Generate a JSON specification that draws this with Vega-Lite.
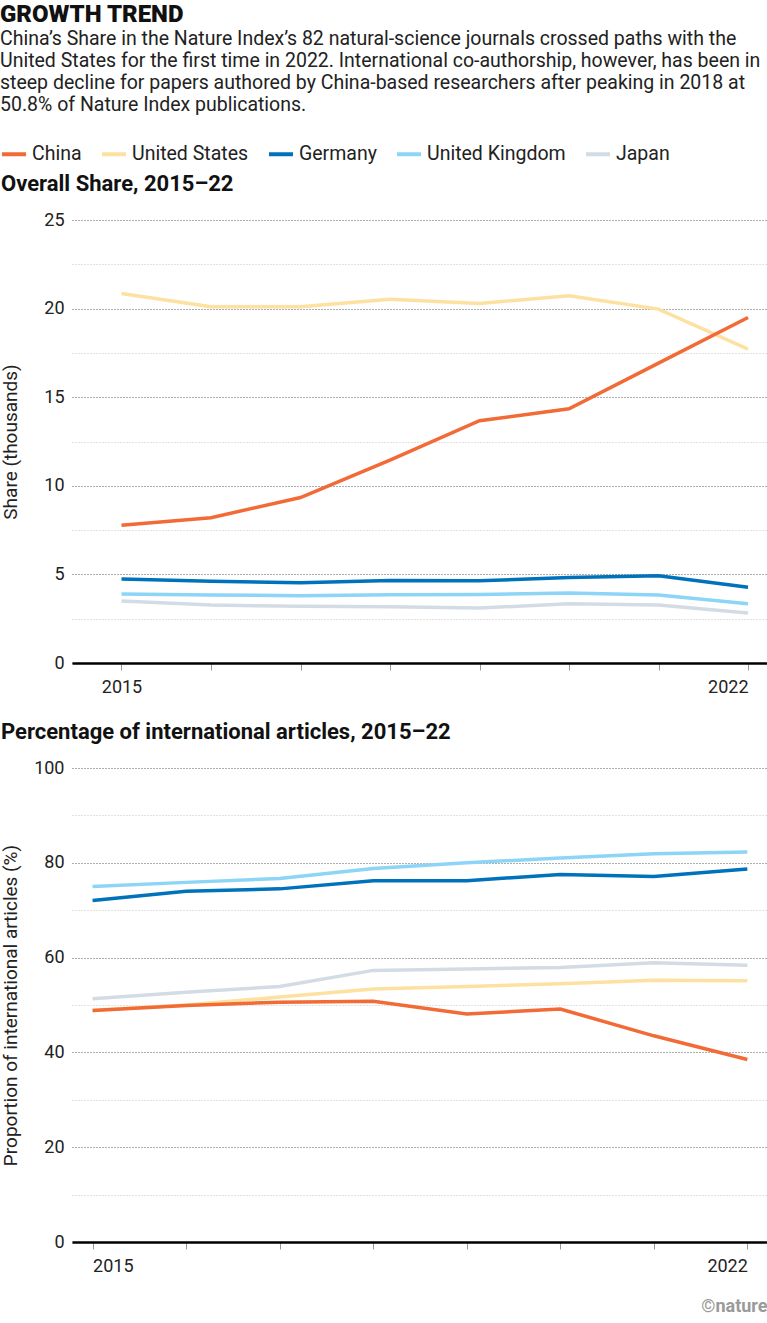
{
  "$schema": "https://vega.github.io/schema/vega-lite/v6.json",
  "padding": {"top": 2, "left": 0, "right": 0, "bottom": 0},
  "background": "white",
  "title": {
    "text": "GROWTH TREND",
    "subtitle": [
      "China’s Share in the Nature Index’s 82 natural-science journals crossed paths with the",
      "United States for the first time in 2022. International co-authorship, however, has been in",
      "steep decline for papers authored by China-based researchers after peaking in 2018 at",
      "50.8% of Nature Index publications."
    ],
    "anchor": "start",
    "font": "Roboto",
    "fontSize": 24,
    "fontWeight": 900,
    "color": "#111111",
    "subtitleFont": "Roboto",
    "subtitleFontSize": 19.5,
    "subtitleLineHeight": 22,
    "subtitleColor": "#222222",
    "subtitlePadding": 3,
    "offset": 26
  },
  "datasets": {
    "share": [
      {"year": 2015, "country": "United States", "value": 20.85},
      {"year": 2016, "country": "United States", "value": 20.1},
      {"year": 2017, "country": "United States", "value": 20.1},
      {"year": 2018, "country": "United States", "value": 20.53},
      {"year": 2019, "country": "United States", "value": 20.29},
      {"year": 2020, "country": "United States", "value": 20.72},
      {"year": 2021, "country": "United States", "value": 19.97},
      {"year": 2022, "country": "United States", "value": 17.71},
      {"year": 2015, "country": "Japan", "value": 3.5},
      {"year": 2016, "country": "Japan", "value": 3.27},
      {"year": 2017, "country": "Japan", "value": 3.2},
      {"year": 2018, "country": "Japan", "value": 3.18},
      {"year": 2019, "country": "Japan", "value": 3.1},
      {"year": 2020, "country": "Japan", "value": 3.34},
      {"year": 2021, "country": "Japan", "value": 3.27},
      {"year": 2022, "country": "Japan", "value": 2.82},
      {"year": 2015, "country": "United Kingdom", "value": 3.89},
      {"year": 2016, "country": "United Kingdom", "value": 3.84},
      {"year": 2017, "country": "United Kingdom", "value": 3.8},
      {"year": 2018, "country": "United Kingdom", "value": 3.85},
      {"year": 2019, "country": "United Kingdom", "value": 3.87},
      {"year": 2020, "country": "United Kingdom", "value": 3.95},
      {"year": 2021, "country": "United Kingdom", "value": 3.84},
      {"year": 2022, "country": "United Kingdom", "value": 3.34},
      {"year": 2015, "country": "Germany", "value": 4.74},
      {"year": 2016, "country": "Germany", "value": 4.61},
      {"year": 2017, "country": "Germany", "value": 4.53},
      {"year": 2018, "country": "Germany", "value": 4.66},
      {"year": 2019, "country": "Germany", "value": 4.64},
      {"year": 2020, "country": "Germany", "value": 4.83},
      {"year": 2021, "country": "Germany", "value": 4.92},
      {"year": 2022, "country": "Germany", "value": 4.27},
      {"year": 2015, "country": "China", "value": 7.77},
      {"year": 2016, "country": "China", "value": 8.2},
      {"year": 2017, "country": "China", "value": 9.34},
      {"year": 2018, "country": "China", "value": 11.45},
      {"year": 2019, "country": "China", "value": 13.67},
      {"year": 2020, "country": "China", "value": 14.35},
      {"year": 2021, "country": "China", "value": 16.92},
      {"year": 2022, "country": "China", "value": 19.5}
    ],
    "intl": [
      {"year": 2015, "country": "United States", "value": 48.9},
      {"year": 2016, "country": "United States", "value": 50.0},
      {"year": 2017, "country": "United States", "value": 51.7},
      {"year": 2018, "country": "United States", "value": 53.4},
      {"year": 2019, "country": "United States", "value": 53.9},
      {"year": 2020, "country": "United States", "value": 54.5},
      {"year": 2021, "country": "United States", "value": 55.2},
      {"year": 2022, "country": "United States", "value": 55.1},
      {"year": 2015, "country": "Japan", "value": 51.3},
      {"year": 2016, "country": "Japan", "value": 52.7},
      {"year": 2017, "country": "Japan", "value": 53.9},
      {"year": 2018, "country": "Japan", "value": 57.3},
      {"year": 2019, "country": "Japan", "value": 57.6},
      {"year": 2020, "country": "Japan", "value": 57.9},
      {"year": 2021, "country": "Japan", "value": 58.9},
      {"year": 2022, "country": "Japan", "value": 58.4},
      {"year": 2015, "country": "United Kingdom", "value": 75.0},
      {"year": 2016, "country": "United Kingdom", "value": 75.87},
      {"year": 2017, "country": "United Kingdom", "value": 76.7},
      {"year": 2018, "country": "United Kingdom", "value": 78.8},
      {"year": 2019, "country": "United Kingdom", "value": 80.0},
      {"year": 2020, "country": "United Kingdom", "value": 81.0},
      {"year": 2021, "country": "United Kingdom", "value": 81.9},
      {"year": 2022, "country": "United Kingdom", "value": 82.3},
      {"year": 2015, "country": "Germany", "value": 72.07},
      {"year": 2016, "country": "Germany", "value": 74.0},
      {"year": 2017, "country": "Germany", "value": 74.5},
      {"year": 2018, "country": "Germany", "value": 76.2},
      {"year": 2019, "country": "Germany", "value": 76.2},
      {"year": 2020, "country": "Germany", "value": 77.55},
      {"year": 2021, "country": "Germany", "value": 77.1},
      {"year": 2022, "country": "Germany", "value": 78.7},
      {"year": 2015, "country": "China", "value": 48.86},
      {"year": 2016, "country": "China", "value": 49.9},
      {"year": 2017, "country": "China", "value": 50.6},
      {"year": 2018, "country": "China", "value": 50.8},
      {"year": 2019, "country": "China", "value": 48.1},
      {"year": 2020, "country": "China", "value": 49.15},
      {"year": 2021, "country": "China", "value": 43.5},
      {"year": 2022, "country": "China", "value": 38.5}
    ]
  },
  "spacing": 25,
  "vconcat": [
    {
      "width": 695,
      "height": 443,
      "title": {"text": "Overall Share, 2015–22"},
      "data": {"name": "share"},
      "mark": {"type": "line", "strokeWidth": 3.5},
      "encoding": {
        "x": {
          "field": "year",
          "type": "quantitative",
          "scale": {"domain": [2014.447, 2022.212], "nice": false, "zero": false},
          "axis": {
            "values": [2015, 2016, 2017, 2018, 2019, 2020, 2021, 2022],
            "labelExpr": "datum.value == 2015 || datum.value == 2022 ? '' + datum.value : ''",
            "title": null
          }
        },
        "y": {
          "field": "value",
          "type": "quantitative",
          "scale": {"domain": [0, 25], "nice": false},
          "axis": {
            "values": [0, 2.5, 5, 7.5, 10, 12.5, 15, 17.5, 20, 22.5, 25],
            "labelExpr": "datum.value % 5 == 0 ? datum.label : ''",
            "gridColor": {"condition": {"test": "datum.value % 5 == 0", "value": "#5a5a5a"}, "value": "#c4c4c4"},
            "title": "Share (thousands)"
          }
        },
        "color": {
          "field": "country",
          "type": "nominal",
          "scale": {
            "domain": ["China", "United States", "Germany", "United Kingdom", "Japan"],
            "range": ["#F26A36", "#FDE1A0", "#0072BC", "#8DD5F6", "#D3DCE4"]
          },
          "legend": {
            "orient": "none",
            "legendX": -72,
            "legendY": -80,
            "direction": "horizontal",
            "title": null,
            "symbolType": "stroke",
            "symbolSize": 576,
            "symbolStrokeWidth": 4,
            "labelFont": "Roboto",
            "labelFontSize": 19.5,
            "labelColor": "#222222",
            "labelOffset": 4,
            "columnPadding": 12
          }
        }
      }
    },
    {
      "width": 695,
      "height": 474,
      "title": {"text": "Percentage of international articles, 2015–22"},
      "data": {"name": "intl"},
      "mark": {"type": "line", "strokeWidth": 3.5},
      "encoding": {
        "x": {
          "field": "year",
          "type": "quantitative",
          "scale": {"domain": [2014.78, 2022.21], "nice": false, "zero": false},
          "axis": {
            "values": [2015, 2016, 2017, 2018, 2019, 2020, 2021, 2022],
            "labelExpr": "datum.value == 2015 || datum.value == 2022 ? '' + datum.value : ''",
            "title": "©nature",
            "titleAnchor": "end",
            "titleFont": "Roboto",
            "titleFontWeight": "bold",
            "titleFontSize": 18,
            "titleColor": "#9a9a9a",
            "titlePadding": 22
          }
        },
        "y": {
          "field": "value",
          "type": "quantitative",
          "scale": {"domain": [0, 100], "nice": false},
          "axis": {
            "values": [0, 10, 20, 30, 40, 50, 60, 70, 80, 90, 100],
            "labelExpr": "datum.value % 20 == 0 ? datum.label : ''",
            "gridColor": {"condition": {"test": "datum.value % 20 == 0", "value": "#5a5a5a"}, "value": "#c4c4c4"},
            "title": "Proportion of international articles (%)"
          }
        },
        "color": {
          "field": "country",
          "type": "nominal"
        }
      }
    }
  ],
  "config": {
    "view": {"stroke": null},
    "font": "Roboto",
    "title": {
      "anchor": "start",
      "font": "Roboto",
      "fontSize": 22,
      "fontWeight": "bold",
      "color": "#111111",
      "offset": 15
    },
    "axisX": {
      "grid": false,
      "tickSize": 7,
      "tickColor": "#999999",
      "tickWidth": 1,
      "domainColor": "#000000",
      "domainWidth": 2.5,
      "labelFlush": 25,
      "labelOverlap": false,
      "labelPadding": 8,
      "labelFont": "Roboto",
      "labelFontSize": 18,
      "labelColor": "#222222"
    },
    "axisY": {
      "grid": true,
      "gridDash": [1, 2],
      "gridWidth": 1,
      "domain": false,
      "ticks": false,
      "labelPadding": 8,
      "labelFont": "Roboto",
      "labelFontSize": 18,
      "labelColor": "#222222",
      "labelOverlap": false,
      "titleFont": "Roboto",
      "titleFontSize": 19,
      "titleFontWeight": "normal",
      "titleColor": "#222222",
      "titleX": -52
    }
  }
}
